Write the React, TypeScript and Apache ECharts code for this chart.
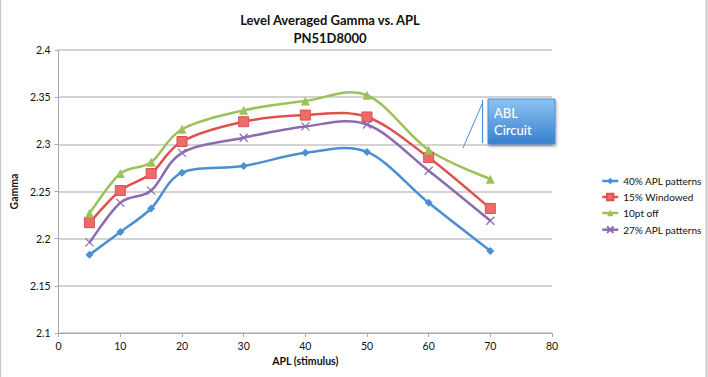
import React, { useEffect, useRef } from "react";
import * as echarts from "echarts";

const xValues = [5, 10, 15, 20, 30, 40, 50, 60, 70];
const seriesNames = ["40% APL patterns", "15% Windowed", "10pt off", "27% APL patterns"];
const apl40 = [2.183, 2.207, 2.232, 2.27, 2.277, 2.291, 2.292, 2.238, 2.187];
const windowed15 = [2.217, 2.251, 2.269, 2.303, 2.324, 2.331, 2.329, 2.286, 2.232];
const off10 = [2.227, 2.269, 2.281, 2.316, 2.336, 2.346, 2.352, 2.294, 2.263];
const apl27 = [2.196, 2.238, 2.251, 2.291, 2.307, 2.319, 2.321, 2.272, 2.219];
const titleLines = ["Level Averaged Gamma vs. APL", "PN51D8000"];
const calloutText = ["ABL", "Circuit"];

const FONT = "Lato, 'Open Sans', sans-serif";

export default function App() {
  const ref = useRef<HTMLDivElement>(null);
  useEffect(() => {
    if (!ref.current) return;
    const chart = echarts.init(ref.current, undefined, { renderer: "svg" });
    const pair = (arr: number[]) => xValues.map((x, i) => [x, arr[i]]);
    const colors = ["#4a8fd2", "#e0514e", "#9bc25a", "#8c6bb1"];
    const allData = [apl40, windowed15, off10, apl27];

    const markerSeries = (name: string, data: number[], color: string, symbol: string, size: number, extra: any = {}) => ({
      name,
      type: "line",
      data: pair(data),
      symbol,
      symbolSize: size,
      lineStyle: { color, width: 2.5, opacity: 0 },
      itemStyle: { color, ...extra },
      z: 4,
    });

    const curveSeries = (name: string, data: number[], color: string) => {
      const pts = pair(data);
      return {
        name,
        type: "custom",
        data: pts,
        encode: { x: 0, y: 1 },
        z: 3,
        renderItem: (params: any, api: any) => {
          if (params.dataIndex !== 0) return null;
          const p = pts.map((d) => api.coord(d));
          const n = p.length;
          let d = `M${p[0][0]},${p[0][1]}`;
          for (let i = 0; i < n - 1; i++) {
            const p0 = p[Math.max(i - 1, 0)];
            const p1 = p[i];
            const p2 = p[i + 1];
            const p3 = p[Math.min(i + 2, n - 1)];
            const c1x = p1[0] + (p2[0] - p0[0]) / 6;
            const c1y = p1[1] + (p2[1] - p0[1]) / 6;
            const c2x = p2[0] - (p3[0] - p1[0]) / 6;
            const c2y = p2[1] - (p3[1] - p1[1]) / 6;
            d += ` C${c1x},${c1y} ${c2x},${c2y} ${p2[0]},${p2[1]}`;
          }
          return {
            type: "path",
            shape: { pathData: d },
            style: { fill: "none", stroke: color, lineWidth: 2.5 },
          };
        },
      };
    };

    chart.setOption({
      animation: false,
      backgroundColor: "#ffffff",
      textStyle: { fontFamily: FONT },
      title: {
        text: titleLines.join("\n"),
        left: 325,
        textAlign: "center",
        top: 6,
        textStyle: { fontFamily: FONT, fontSize: 13, fontWeight: "bold", color: "#111", lineHeight: 18 },
      },
      legend: {
        orient: "vertical",
        left: 601,
        top: 176,
        itemWidth: 16,
        itemHeight: 8,
        itemGap: 6,
        padding: 0,
        textStyle: { fontFamily: FONT, fontSize: 10, color: "#111" },
        data: seriesNames.map((n, i) => ({
          name: n,
          lineStyle: { color: colors[i], width: 2.5, opacity: 1 },
        })),
      },
      grid: { left: 53, right: 156, top: 50, bottom: 44 },
      xAxis: {
        type: "value",
        min: 0,
        max: 80,
        interval: 10,
        name: "APL (stimulus)",
        nameLocation: "middle",
        nameGap: 22,
        nameTextStyle: { fontFamily: FONT, fontSize: 10.5, fontWeight: "bold", color: "#111" },
        axisLine: { lineStyle: { color: "#aaaaaa", width: 1 } },
        axisTick: { show: true, length: 4, lineStyle: { color: "#aaaaaa" } },
        axisLabel: { fontFamily: FONT, fontSize: 10.5, color: "#111", margin: 7 },
        splitLine: { show: false },
      },
      yAxis: {
        type: "value",
        min: 2.1,
        max: 2.4,
        interval: 0.05,
        name: "Gamma",
        nameLocation: "middle",
        nameGap: 34,
        nameTextStyle: { fontFamily: FONT, fontSize: 10.5, fontWeight: "bold", color: "#111" },
        axisLine: { show: true, lineStyle: { color: "#aaaaaa", width: 1 } },
        axisTick: { show: true, length: 4, lineStyle: { color: "#aaaaaa" } },
        axisLabel: {
          fontFamily: FONT,
          fontSize: 10.5,
          color: "#111",
          margin: 8,
          formatter: (v: number) => String(parseFloat(v.toFixed(2))),
        },
        splitLine: { lineStyle: { color: "#c4c4c4", width: 1.5 } },
      },
      series: [
        markerSeries(seriesNames[0], apl40, colors[0], "diamond", 8),
        markerSeries(seriesNames[1], windowed15, colors[1], "rect", 10, { color: "#ee6b68", borderColor: "#d9524f", borderWidth: 1 }),
        markerSeries(seriesNames[2], off10, colors[2], "triangle", 9),
        markerSeries(seriesNames[3], apl27, colors[3], "path://M0,0L10,10M10,0L0,10", 8, { color: "none", borderColor: colors[3], borderWidth: 1.2 }),
        ...seriesNames.map((n, i) => curveSeries(n, allData[i], colors[i])),
      ],
      graphic: [
        { type: "line", shape: { x1: 0.5, y1: 0, x2: 0.5, y2: 377 }, style: { stroke: "#c8c8c8", lineWidth: 1.5 } },
        { type: "line", shape: { x1: 706.5, y1: 0, x2: 706.5, y2: 377 }, style: { stroke: "#c8c8c8", lineWidth: 2 } },
        { type: "line", shape: { x1: 463, y1: 148, x2: 482, y2: 104 }, style: { stroke: "#4a8fd2", lineWidth: 1 }, z: 10 },
        { type: "line", shape: { x1: 482.5, y1: 100, x2: 482.5, y2: 143 }, style: { stroke: "#4a8fd2", lineWidth: 1.2 }, z: 10 },
        {
          type: "rect",
          shape: { x: 488, y: 99, width: 67, height: 45 },
          style: {
            fill: new echarts.graphic.LinearGradient(0, 0, 0, 1, [
              { offset: 0, color: "#8ec3f2" },
              { offset: 1, color: "#3680cf" },
            ]),
            stroke: "#4a8fd2",
            lineWidth: 1,
            shadowBlur: 3,
            shadowOffsetX: 1,
            shadowOffsetY: 2,
            shadowColor: "rgba(0,0,0,0.35)",
          },
          z: 10,
        },
        {
          type: "text",
          x: 494,
          y: 104,
          style: {
            text: calloutText.join("\n"),
            fill: "#ffffff",
            fontFamily: FONT,
            fontSize: 13,
            fontWeight: 500,
            lineHeight: 17,
          },
          z: 11,
        },
      ],
    });
    return () => chart.dispose();
  }, []);
  return <div ref={ref} style={{ position: "fixed", left: 0, top: 0, width: 708, height: 377 }} />;
}
